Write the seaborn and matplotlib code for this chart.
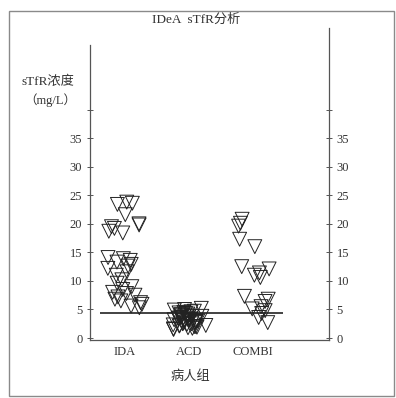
import numpy as np
import pandas as pd
import matplotlib
matplotlib.use("Agg")
import matplotlib.pyplot as plt
import seaborn as sns
from matplotlib.patches import Rectangle

# values (mg/L)
groups = ["IDA", "ACD", "COMBI"]
ida = [23.8, 23.6, 23.4, 21.6, 20.0, 19.8, 19.5, 19.2, 18.7, 18.4,
       14.1, 13.9, 13.6, 13.3, 12.9, 12.6, 12.2, 11.6, 11.0, 10.2,
       9.6, 9.0, 8.5, 8.0, 7.8, 7.5, 7.2, 6.8, 6.5, 6.2, 5.9, 5.6, 5.3]
acd = [5.2, 5.0, 4.9, 4.7, 4.6, 4.5, 4.4, 4.3, 4.2, 4.1, 4.0, 3.9,
       3.8, 3.8, 3.7, 3.6, 3.5, 3.5, 3.4, 3.3, 3.2, 3.2, 3.1, 3.0,
       3.0, 2.9, 2.8, 2.8, 2.7, 2.6, 2.5, 2.5, 2.4, 2.3, 2.2, 2.2,
       2.1, 2.0, 2.0, 1.9, 1.8, 1.7, 1.6, 1.5]
combi = [20.8, 20.1, 19.6, 17.3, 16.0, 12.5, 12.1, 11.4, 11.0, 10.6,
         7.3, 6.8, 6.4, 5.5, 5.1, 4.8, 4.3, 3.6, 2.7]
cutoff = 4.3
yticks = [0, 5, 10, 15, 20, 25, 30, 35]

df = pd.DataFrame({
    "group": ["IDA"] * len(ida) + ["ACD"] * len(acd) + ["COMBI"] * len(combi),
    "value": ida + acd + combi,
})

sns.set_style("white")
fam = ["Liberation Serif", "Noto Sans CJK SC"]
plt.rcParams["font.family"] = fam
ink = "#333333"

fig = plt.figure(figsize=(3.96, 3.98), dpi=100)
ax = fig.add_axes([0.227, 0.1457, 0.604, 0.784])

np.random.seed(3)
sns.stripplot(data=df, x="group", y="value", order=groups, jitter=0.28,
              marker="v", size=10, linewidth=0.7, color="black", ax=ax)
for c in ax.collections:
    c.set_facecolor("none")
    c.set_edgecolor("#222222")

ax.set_xlim(-0.547, 3.19)
ax.set_ylim(-0.35, 54.3)
ax.hlines(cutoff, -0.39, 2.47, color="#222222", linewidth=1.2)

# left and right axes share the same ticks
ax.set_yticks(yticks + [40])
ax.set_yticklabels([str(t) for t in yticks] + [""], color=ink, fontsize=9)
ax.tick_params(axis="y", direction="inout", length=5, width=0.7, color="#555555",
               right=True, labelright=True, left=True, labelleft=True, pad=3)
ax.tick_params(axis="x", length=0, pad=4, labelsize=9, labelcolor=ink)
ax.set_xlabel("")
ax.set_ylabel("")

for side in ["left", "right", "bottom"]:
    ax.spines[side].set_visible(True)
    ax.spines[side].set_color("#555555")
    ax.spines[side].set_linewidth(0.9)
ax.spines["top"].set_visible(False)
ax.spines["left"].set_bounds(-0.35, 51.3)

fig.text(0.495, 0.95, "IDeA  sTfR分析", ha="center", va="center",
         fontsize=9.5, color=ink, family=fam)
fig.text(0.121, 0.794, "sTfR浓度", ha="center", va="center",
         fontsize=9.5, color=ink, family=fam)
fig.text(0.126, 0.749, "（mg/L）", ha="center", va="center",
         fontsize=9, color=ink, family=fam)
fig.text(0.48, 0.053, "病人组", ha="center", va="center",
         fontsize=9.5, color=ink, family=fam)

fig.patches.append(Rectangle((0.022, 0.005), 0.973, 0.968, transform=fig.transFigure,
                             fill=False, edgecolor="#8a8a8a", linewidth=1.0))

fig.savefig("out.png", dpi=100)
